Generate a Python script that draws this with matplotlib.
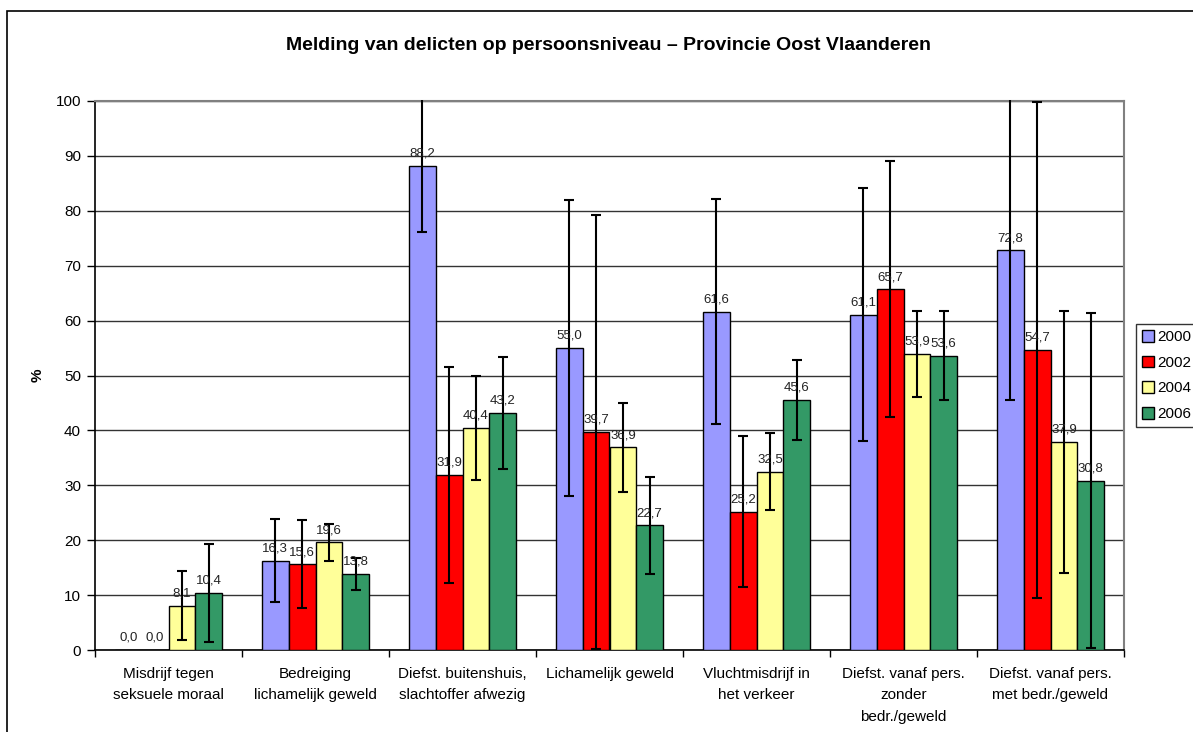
import matplotlib
matplotlib.use("Agg")
import matplotlib.pyplot as plt
import numpy as np
from matplotlib.patches import Rectangle

plt.rcParams['font.family'] = ['Liberation Sans', 'DejaVu Sans']

categories = ["Misdrijf tegen\nseksuele moraal",
              "Bedreiging\nlichamelijk geweld",
              "Diefst. buitenshuis,\nslachtoffer afwezig",
              "Lichamelijk geweld",
              "Vluchtmisdrijf in\nhet verkeer",
              "Diefst. vanaf pers.\nzonder\nbedr./geweld",
              "Diefst. vanaf pers.\nmet bedr./geweld"]
years = ["2000", "2002", "2004", "2006"]

v2000 = [0.0, 16.3, 88.2, 55.0, 61.6, 61.1, 72.8]
v2002 = [0.0, 15.6, 31.9, 39.7, 25.2, 65.7, 54.7]
v2004 = [8.1, 19.6, 40.4, 36.9, 32.5, 53.9, 37.9]
v2006 = [10.4, 13.8, 43.2, 22.7, 45.6, 53.6, 30.8]

e2000 = [0.0, 7.5, 12.0, 27.0, 20.5, 23.0, 27.3]
e2002 = [0.0, 8.0, 19.7, 39.6, 13.7, 23.3, 45.2]
e2004 = [6.2, 3.4, 9.5, 8.1, 7.0, 7.9, 23.9]
e2006 = [8.9, 2.9, 10.2, 8.9, 7.3, 8.1, 30.5]

values = [v2000, v2002, v2004, v2006]
errors = [e2000, e2002, e2004, e2006]
colors = ["#9999FF", "#FF0000", "#FFFF99", "#339966"]

fig = plt.figure(figsize=(11.93, 7.32), dpi=100)
# outer chart border (cropped on right / bottom)
fig.patches.append(Rectangle((7/1193, -0.1), 1.2, (732-11)/732 + 0.1, transform=fig.transFigure,
                             fill=False, edgecolor='black', lw=1.2))

ax = fig.add_axes([95/1193, (732-650)/732, (1124-95)/1193, (650-101)/732])

n = len(categories)
x = np.arange(n)
w = 0.182
cap = 0.034
for i, (vals, errs, c) in enumerate(zip(values, errors, colors)):
    pos = x + (i - 1.5) * w
    ax.bar(pos, vals, width=w, color=c, edgecolor='black', linewidth=1.0, label=years[i], zorder=3)
    for p, v, e in zip(pos, vals, errs):
        if e > 0:
            lo = max(v - e, 0)
            hi = min(v + e, 100.6)
            ax.vlines(p, lo, hi, color='black', lw=1.5, zorder=5, clip_on=False)
            if v + e <= 100:
                ax.hlines(v + e, p - cap, p + cap, color='black', lw=1.5, zorder=5)
            ax.hlines(lo, p - cap, p + cap, color='black', lw=1.5, zorder=5)
        ax.annotate(f"{v:.1f}".replace('.', ','), (p, v), xytext=(0, 4.5),
                    textcoords='offset points', ha='center', va='bottom',
                    fontsize=9.5, color='#222222', zorder=6)

ax.set_xlim(-0.5, n - 0.5)
ax.set_ylim(0, 100)
ax.set_yticks(np.arange(0, 101, 10))
ax.tick_params(axis='y', labelsize=11, length=6, width=1, direction='out', pad=4)
ax.set_xticks(x)
ax.set_xticklabels(categories, fontsize=11, linespacing=1.7)
ax.tick_params(axis='x', which='major', length=0, pad=12)
ax.set_xticks(np.arange(-0.5, n, 1.0), minor=True)
ax.tick_params(axis='x', which='minor', length=5, width=1, direction='out')

ax.yaxis.grid(True, color='#333333', lw=1.0, zorder=0)
ax.set_axisbelow(True)
for s in ['left', 'bottom']:
    ax.spines[s].set_color('black')
    ax.spines[s].set_linewidth(1.2)
for s in ['right', 'top']:
    ax.spines[s].set_color('#808080')
    ax.spines[s].set_linewidth(1.5)

ax.set_ylabel('%', fontsize=11, fontweight='bold', labelpad=8)

fig.text(609/1193, 1 - 45/732, "Melding van delicten op persoonsniveau \u2013 Provincie Oost Vlaanderen",
         ha='center', va='center', fontsize=14, fontweight='bold')

leg = ax.legend(loc='upper left', bbox_to_anchor=(1136/1193, 1 - 324/732),
                bbox_transform=fig.transFigure, frameon=True, fancybox=False,
                edgecolor='black', fontsize=11, handlelength=0.8, handleheight=0.8,
                handletextpad=0.2, labelspacing=0.75, borderpad=0.4, borderaxespad=0)
leg.get_frame().set_linewidth(1.0)

fig.savefig("out.png", dpi=100)
